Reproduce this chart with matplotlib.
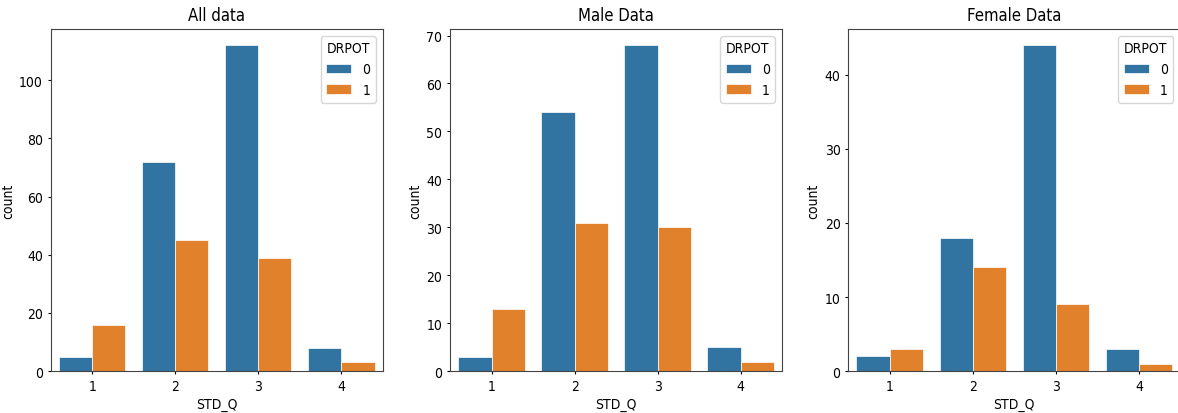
import numpy as np
import matplotlib
matplotlib.use('Agg')
import matplotlib.pyplot as plt

plt.rcParams['font.family'] = ['DejaVu Sans']
plt.rcParams['font.stretch'] = 'condensed'
plt.rcParams['font.size'] = 10
plt.rcParams['xtick.major.size'] = 2.5
plt.rcParams['ytick.major.size'] = 2.5
plt.rcParams['xtick.major.pad'] = 3
plt.rcParams['ytick.major.pad'] = 3
plt.rcParams['axes.edgecolor'] = '#444444'

# counts per STD_Q group, split by DRPOT
std_q = ['1', '2', '3', '4']
drpot = ['0', '1']

all_0 = [5, 72, 112, 8]
all_1 = [16, 45, 39, 3]
male_0 = [3, 54, 68, 5]
male_1 = [13, 31, 30, 2]
female_0 = [2, 18, 44, 3]
female_1 = [3, 14, 9, 1]

titles = ['All data', 'Male Data', 'Female Data']
colors = ['#3274a1', '#e1812c']

fig = plt.figure(figsize=(11.78, 4.14), dpi=100)
lefts = [0.043, 0.382, 0.72]
axes = [fig.add_axes([l, 0.101, 0.282, 0.827]) for l in lefts]

panels = [(all_0, all_1), (male_0, male_1), (female_0, female_1)]
x = np.arange(len(std_q))
w = 0.4

for ax, title, (c0, c1) in zip(axes, titles, panels):
    ax.bar(x - w/2, c0, width=w, color=colors[0], edgecolor='white', linewidth=0.5, label=drpot[0])
    ax.bar(x + w/2, c1, width=w, color=colors[1], edgecolor='white', linewidth=0.5, label=drpot[1])
    ax.set_xticks(x)
    ax.set_xticklabels(std_q)
    ax.set_xlim(-0.5, 3.5)
    ax.set_xlabel('STD_Q', labelpad=3)
    ax.set_ylabel('count', labelpad=3)
    ax.set_title(title)
    ax.legend(title='DRPOT', loc='upper right', handlelength=1.8)

fig.savefig('out.png', dpi=100)
